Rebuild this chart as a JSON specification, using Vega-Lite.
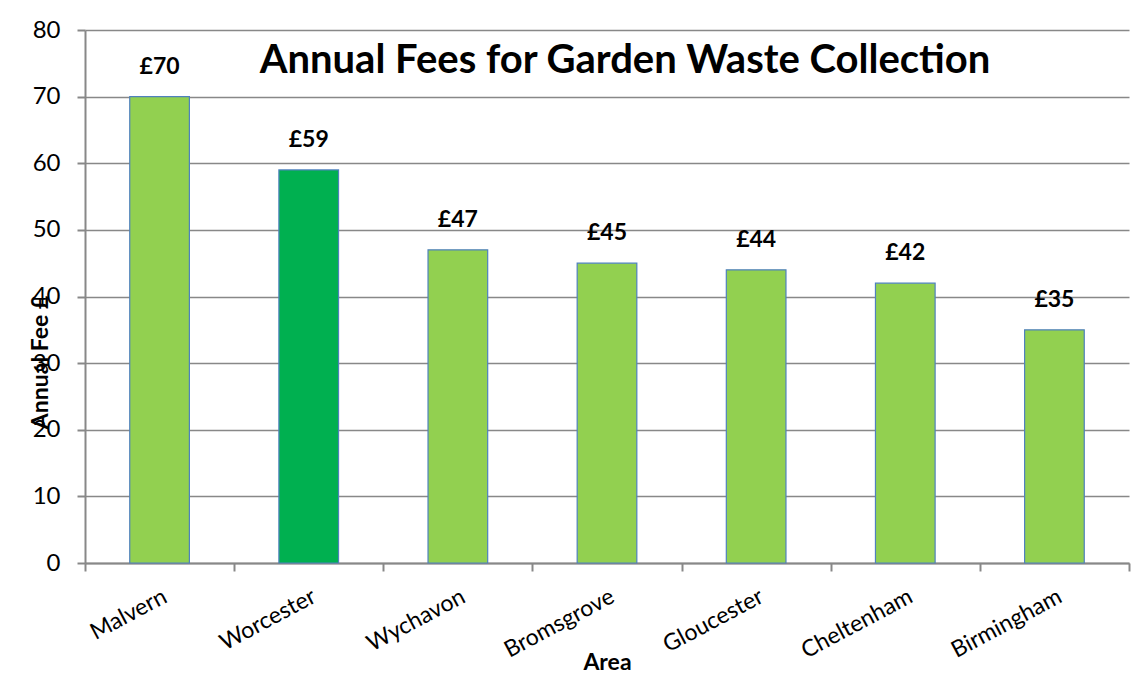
{
  "$schema": "https://vega.github.io/schema/vega-lite/v6.json",
  "autosize": {"type": "none"},
  "padding": {"left": 85, "top": 30, "right": 2, "bottom": 112},
  "width": 1044,
  "height": 533,
  "background": "white",
  "title": {
    "text": "Annual Fees for Garden Waste Collection",
    "font": "Lato",
    "fontSize": 40,
    "fontWeight": "bold",
    "color": "black",
    "anchor": "middle",
    "baseline": "middle",
    "offset": -28,
    "dx": 18,
    "dy": 55
  },
  "data": {
    "values": [
      {"area": "Malvern", "fee": 70, "label": "£70", "group": "other"},
      {"area": "Worcester", "fee": 59, "label": "£59", "group": "Worcester"},
      {"area": "Wychavon", "fee": 47, "label": "£47", "group": "other"},
      {"area": "Bromsgrove", "fee": 45, "label": "£45", "group": "other"},
      {"area": "Gloucester", "fee": 44, "label": "£44", "group": "other"},
      {"area": "Cheltenham", "fee": 42, "label": "£42", "group": "other"},
      {"area": "Birmingham", "fee": 35, "label": "£35", "group": "other"}
    ]
  },
  "encoding": {
    "x": {
      "field": "area",
      "type": "nominal",
      "sort": null,
      "scale": {"paddingInner": 0, "paddingOuter": 0},
      "axis": {
        "title": "Area",
        "titleFont": "Lato",
        "titleFontSize": 23,
        "titleFontWeight": "bold",
        "titleColor": "black",
        "titleY": 99,
        "titleBaseline": "middle",
        "labelFont": "Lato",
        "labelFontSize": 23,
        "labelColor": "black",
        "labelAngle": -28,
        "labelAlign": "right",
        "labelBaseline": "top",
        "labelPadding": 14,
        "tickBand": "extent",
        "tickSize": 8,
        "tickColor": "#888888",
        "tickWidth": 2,
        "domainColor": "#888888",
        "domainWidth": 2,
        "grid": false
      }
    },
    "y": {
      "field": "fee",
      "type": "quantitative",
      "scale": {"domain": [0, 80]},
      "axis": {
        "title": "Annual Fee £",
        "titleFont": "Lato",
        "titleFontSize": 23,
        "titleFontWeight": "bold",
        "titleColor": "black",
        "titleX": -45,
        "titleY": 332,
        "titleAlign": "center",
        "titleBaseline": "middle",
        "values": [0, 10, 20, 30, 40, 50, 60, 70, 80],
        "labelFont": "Lato",
        "labelFontSize": 24,
        "labelColor": "black",
        "labelPadding": 17,
        "tickSize": 8,
        "tickColor": "#888888",
        "tickWidth": 2,
        "domainColor": "#888888",
        "domainWidth": 2,
        "grid": true,
        "gridColor": "#888888",
        "gridWidth": 1.5
      }
    }
  },
  "layer": [
    {
      "mark": {"type": "bar", "width": {"band": 0.4}, "stroke": "#4F81BD", "strokeWidth": 1.2},
      "encoding": {
        "color": {
          "field": "group",
          "type": "nominal",
          "scale": {"domain": ["other", "Worcester"], "range": ["#92D050", "#00B050"]},
          "legend": null
        }
      }
    },
    {
      "mark": {"type": "text", "baseline": "bottom", "dy": -18, "font": "Lato", "fontSize": 23, "fontWeight": "bold", "color": "black"},
      "encoding": {"text": {"field": "label"}}
    }
  ],
  "config": {"view": {"stroke": null}}
}
